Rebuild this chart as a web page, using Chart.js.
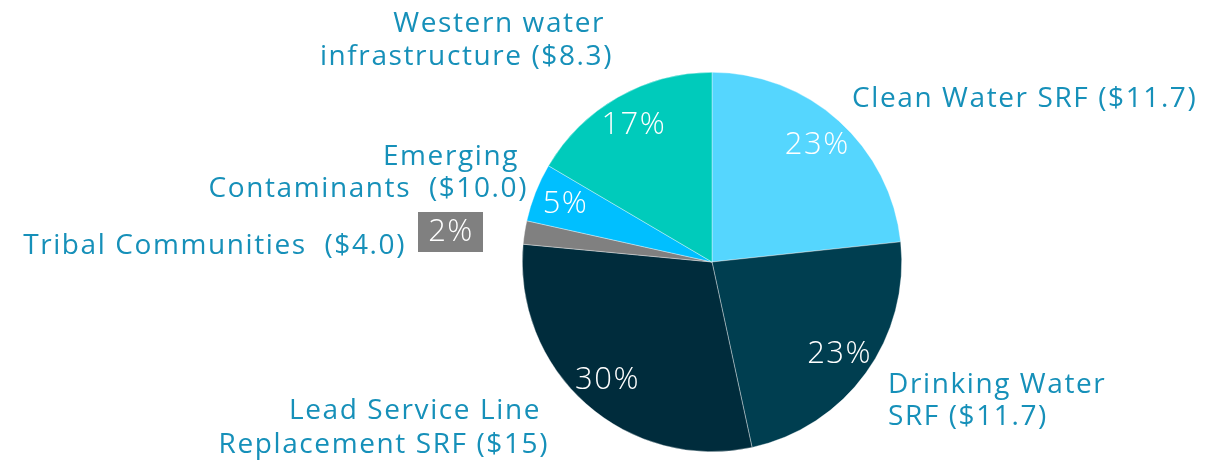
<!DOCTYPE html>
<html>
<head>
<meta charset="utf-8">
<script src="https://cdn.jsdelivr.net/npm/chart.js@4.4.1/dist/chart.umd.min.js"></script>
<style>
  html, body { margin: 0; padding: 0; background: #fff; }
  #wrap { width: 1225px; height: 461px; }
</style>
</head>
<body>
<div id="wrap"><canvas id="pieChart"></canvas></div>
<script>
// funding in $ billions (one year), slices start at 12 o'clock going clockwise
const categories = [
  "Clean Water SRF ($11.7)",
  "Drinking Water SRF ($11.7)",
  "Lead Service Line Replacement SRF ($15)",
  "Tribal Communities  ($4.0)",
  "Emerging Contaminants  ($10.0)",
  "Western water infrastructure ($8.3)"
];
const values = [11.7, 11.7, 15, 1.0, 2.5, 8.3];
const colors = ["#55d6fe", "#003e50", "#002c3c", "#808080", "#00bfff", "#00cbbb"];

const labelColor = "#1690b9";
const labelFont = "400 28px 'Open Sans'";

// outside labels: lines, anchor x, baselines, alignment
const outsideLabels = [
  { lines: ["Clean Water SRF ($11.7)"], x: 852, ys: [107], align: "left" },
  { lines: ["Drinking Water", "SRF ($11.7)"], x: 888, ys: [393, 425], align: "left" },
  { lines: ["Lead Service Line", "Replacement SRF ($15)"], x: [541, 549], ys: [419, 453], align: "right" },
  { lines: ["Tribal Communities  ($4.0)"], x: 406, ys: [254], align: "right" },
  { lines: ["Emerging", "Contaminants  ($10.0)"], x: [519, 528], ys: [165, 197], align: "right" },
  { lines: ["Western water", "infrastructure ($8.3)"], x: [605, 613], ys: [32, 65], align: "right" }
];

const labelPlugin = {
  id: "pieLabels",
  afterDatasetsDraw(chart) {
    const ctx = chart.ctx;
    const meta = chart.getDatasetMeta(0);
    const total = values.reduce((a, b) => a + b, 0);
    ctx.save();
    // category names
    ctx.font = labelFont;
    ctx.letterSpacing = "1.6px";
    ctx.fillStyle = labelColor;
    ctx.textBaseline = "alphabetic";
    outsideLabels.forEach(l => {
      ctx.textAlign = l.align;
      l.lines.forEach((t, i) => {
        const x = Array.isArray(l.x) ? l.x[i] : l.x;
        ctx.fillText(t, x, l.ys[i]);
      });
    });
    // percentages
    ctx.font = "300 31px 'Open Sans'";
    ctx.letterSpacing = "1.5px";
    ctx.textAlign = "center";
    ctx.textBaseline = "middle";
    meta.data.forEach((arc, i) => {
      const pct = Math.round(values[i] / total * 100) + "%";
      const p = arc.getProps(["x", "y", "startAngle", "endAngle", "outerRadius"], true);
      if (i === 3) {
        // small slice: label in a grey box to the left
        ctx.fillStyle = colors[3];
        ctx.fillRect(418, 212, 65, 40);
        ctx.fillStyle = "#fff";
        ctx.fillText(pct, 451, 232);
        return;
      }
      const mid = (p.startAngle + p.endAngle) / 2;
      const r = p.outerRadius * 0.83;
      ctx.fillStyle = "#fff";
      ctx.fillText(pct, p.x + Math.cos(mid) * r, p.y + Math.sin(mid) * r);
    });
    ctx.restore();
  }
};

new Chart(document.getElementById("pieChart"), {
  type: "pie",
  data: {
    labels: categories,
    datasets: [
      {
        data: values,
        backgroundColor: colors,
        borderColor: "rgba(255,255,255,0.6)",
        borderWidth: 0.6,
      },
    ],
  },
  options: {
    responsive: true,
    maintainAspectRatio: false,
    animation: false,
    layout: {
      padding: { top: 72, bottom: 9, left: 400, right: 201 }
    },
    plugins: {
      legend: { display: false },
      tooltip: { enabled: false },
    },
  },
  plugins: [labelPlugin],
});
</script>
</body>
</html>
